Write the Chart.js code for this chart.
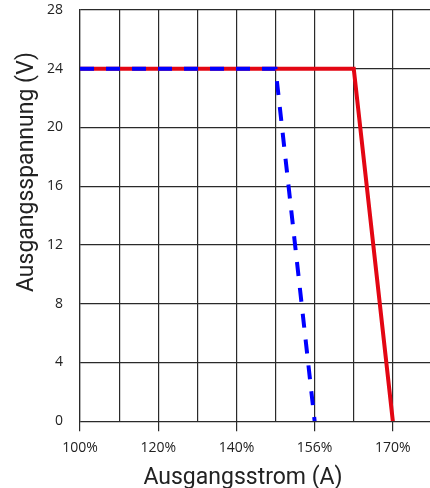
<!DOCTYPE html>
<html>
<head>
<meta charset="utf-8">
<script src="https://cdn.jsdelivr.net/npm/chart.js@4"></script>
<style>
  body { margin: 0; background: #fff; }
  canvas { display: block; }
</style>
</head>
<body>
<canvas id="chart" width="430" height="488"></canvas>
<script>
// x-Achse: Gitterlinien 0..8, Beschriftung nur auf jeder zweiten
const xTickLabels = ['100%', '', '120%', '', '140%', '', '156%', '', '170%'];
const yTicks = [0, 4, 8, 12, 16, 20, 24, 28];
const xTitle = 'Ausgangsstrom (A)';
const yTitle = 'Ausgangsspannung (V)';

// Kennlinien (x = Index der Gitterlinie, y = Spannung in V)
const redX = [0, 7, 8];
const redY = [24, 24, 0];
const blueX = [0, 5, 6];
const blueY = [24, 24, 0];

function toPoints(xs, ys) {
    return xs.map((x, i) => ({ x: x, y: ys[i] }));
}

const gridColor = '#2a2a2a';
const textColor = '#222';
const tickFont = '"Open Sans", "Noto Sans", sans-serif';
const titleFont = 'Roboto, "Open Sans", sans-serif';

// Achsentitel selbst zeichnen, damit sie wie im Original sitzen
const axisTitles = {
    id: 'axisTitles',
    afterDraw(chart) {
        const a = chart.chartArea;
        const c = chart.ctx;
        c.save();
        c.fillStyle = textColor;
        c.font = '23px ' + titleFont;
        c.textAlign = 'center';
        c.textBaseline = 'alphabetic';
        c.fillText(xTitle, a.left + 163, a.bottom + 63);
        c.translate(33, a.top + 162);
        c.rotate(-Math.PI / 2);
        c.fillText(yTitle, 0, 0);
        c.restore();
    }
};

const ctx = document.getElementById('chart').getContext('2d');
const chart = new Chart(ctx, {
    type: 'line',
    data: {
        datasets: [{
            label: 'rot',
            data: toPoints(redX, redY),
            borderColor: '#e30613',
            borderWidth: 4,
            pointRadius: 0,
            tension: 0,
            fill: false,
            order: 2
        }, {
            label: 'blau',
            data: toPoints(blueX, blueY),
            borderColor: '#0000ff',
            borderWidth: 4,
            borderDash: [14, 12],
            pointRadius: 0,
            tension: 0,
            fill: false,
            order: 1
        }]
    },
    plugins: [axisTitles],
    options: {
        responsive: false,
        animation: false,
        layout: { padding: { top: 10, right: 0, left: 30, bottom: 24 } },
        plugins: {
            legend: { display: false },
            tooltip: { enabled: false }
        },
        scales: {
            x: {
                type: 'linear',
                min: 0,
                max: 8.95,
                afterBuildTicks: function(scale) {
                    scale.ticks = xTickLabels.map((l, i) => ({ value: i }));
                },
                grid: {
                    color: gridColor,
                    lineWidth: 1.2,
                    tickLength: 10,
                    tickColor: function(c) {
                        return (c.tick && xTickLabels[c.tick.value]) ? gridColor : 'rgba(0,0,0,0)';
                    }
                },
                border: { display: false },
                ticks: {
                    color: textColor,
                    font: { family: tickFont, size: 14 },
                    padding: 8,
                    maxRotation: 0,
                    autoSkip: false,
                    callback: function(value) {
                        return xTickLabels[value] || '';
                    }
                }
            },
            y: {
                min: 0,
                max: 28,
                afterBuildTicks: function(scale) {
                    scale.ticks = yTicks.map(v => ({ value: v }));
                },
                afterFit: function(scale) {
                    scale.paddingTop = 0;
                    scale.paddingBottom = 0;
                },
                grid: {
                    color: gridColor,
                    lineWidth: 1.2,
                    drawTicks: false
                },
                border: { display: true, color: gridColor, width: 1.2 },
                ticks: {
                    color: textColor,
                    font: { family: tickFont, size: 14 },
                    padding: 17
                }
            }
        }
    }
});
</script>
</body>
</html>
